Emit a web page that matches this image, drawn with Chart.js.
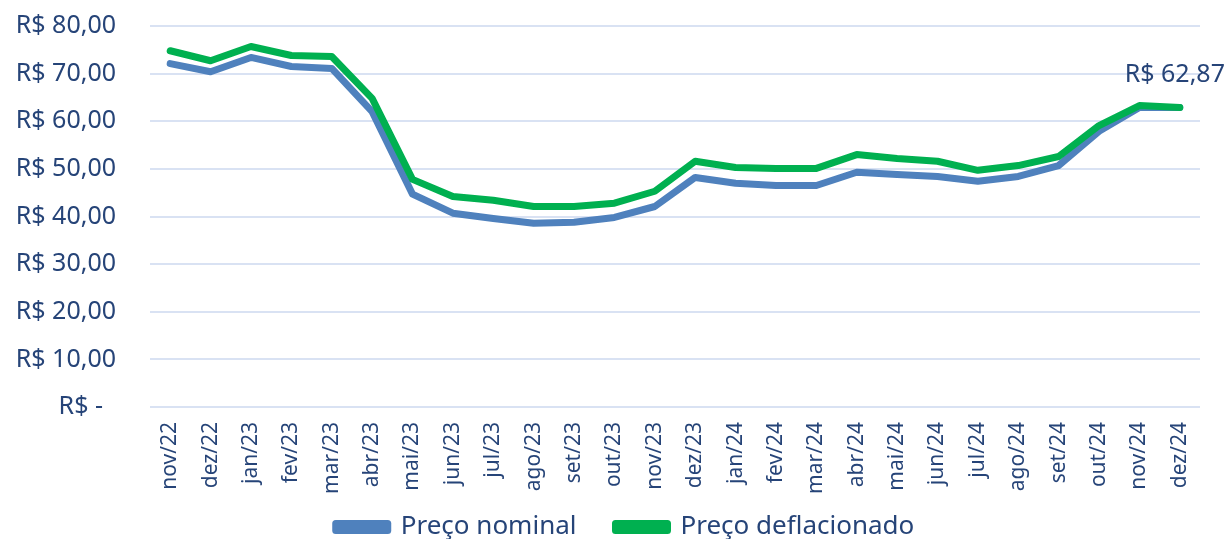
<!DOCTYPE html>
<html lang="pt-BR">
<head>
<meta charset="utf-8">
<title>Preço nominal x deflacionado</title>
<script src="https://cdn.jsdelivr.net/npm/chart.js@4.4.1/dist/chart.umd.min.js"></script>
<style>
  html, body { margin: 0; padding: 0; background: #fff; }
  #wrap { width: 1231px; height: 539px; position: relative; }
</style>
</head>
<body>
<div id="wrap"><canvas id="precoChart"></canvas></div>
<script>
// meses da série
const meses = [
  "nov/22","dez/22","jan/23","fev/23","mar/23","abr/23","mai/23","jun/23","jul/23",
  "ago/23","set/23","out/23","nov/23","dez/23","jan/24","fev/24","mar/24","abr/24",
  "mai/24","jun/24","jul/24","ago/24","set/24","out/24","nov/24","dez/24"
];

// preço nominal (R$)
const precoNominal = [
  72.1, 70.4, 73.4, 71.5, 71.1, 62.0, 44.7, 40.7, 39.6,
  38.6, 38.8, 39.8, 42.1, 48.2, 47.0, 46.5, 46.5, 49.3,
  48.8, 48.4, 47.4, 48.4, 50.7, 57.9, 62.9, 62.87
];

// preço deflacionado (R$)
const precoDeflacionado = [
  74.8, 72.7, 75.7, 73.8, 73.6, 64.8, 47.8, 44.2, 43.4,
  42.1, 42.1, 42.8, 45.3, 51.6, 50.3, 50.1, 50.1, 53.0,
  52.2, 51.6, 49.7, 50.7, 52.6, 59.1, 63.3, 62.87
];

const eixoY = { min: 0, max: 80, passo: 10 };

const corTexto = "#264478";
const fonte = "'Noto Sans', sans-serif";

function formatBRL(v) {
  if (v === 0) return "R$ -  ";
  return "R$ " + v.toFixed(2).replace(".", ",");
}

// rótulo só no último ponto do deflacionado
const rotuloFinal = {
  id: "rotuloFinal",
  afterDatasetsDraw(chart) {
    const meta = chart.getDatasetMeta(1);
    const ultimo = meta.data[meta.data.length - 1];
    const valor = precoDeflacionado[precoDeflacionado.length - 1];
    const ctx = chart.ctx;
    ctx.save();
    ctx.font = "25px " + fonte;
    ctx.fillStyle = corTexto;
    ctx.textAlign = "center";
    ctx.textBaseline = "bottom";
    ctx.fillText(formatBRL(valor).trim(), ultimo.x - 5, ultimo.y - 20);
    ctx.restore();
  }
};

// legenda um pouco à direita, centrada sob a área do gráfico
const legendaDireita = {
  id: "legendaDireita",
  afterLayout(chart) {
    chart.legend.left += 19;
    chart.legend.right += 19;
  }
};

// sem folga extra dos rótulos nas bordas da área do gráfico
function semFolga(scale) {
  scale.paddingLeft = 0;
  scale.paddingRight = 0;
  scale.paddingTop = 0;
  scale.paddingBottom = 0;
}

new Chart(document.getElementById("precoChart"), {
  type: "line",
  data: {
    labels: meses,
    datasets: [
      {
        label: "Preço nominal",
        data: precoNominal,
        borderColor: "#4f81bd",
        backgroundColor: "#4f81bd",
        borderWidth: 7,
        pointRadius: 0,
        tension: 0,
        borderCapStyle: "round",
        borderJoinStyle: "round",
        order: 2
      },
      {
        label: "Preço deflacionado",
        data: precoDeflacionado,
        borderColor: "#00b050",
        backgroundColor: "#00b050",
        borderWidth: 7,
        pointRadius: 0,
        tension: 0,
        borderCapStyle: "round",
        borderJoinStyle: "round",
        order: 1
      }
    ]
  },
  options: {
    responsive: true,
    maintainAspectRatio: false,
    animation: false,
    layout: { padding: { left: 12, right: 31, top: 26, bottom: -11 } },
    plugins: {
      tooltip: { enabled: false },
      legend: {
        position: "bottom",
        labels: {
          sort: (a, b) => a.datasetIndex - b.datasetIndex,
          // espaço extra depois do item do preço nominal
          generateLabels(chart) {
            const itens = Chart.defaults.plugins.legend.labels.generateLabels(chart);
            itens.forEach((it) => {
              if (it.datasetIndex === 0) it.text += "\u2002\u2002\u2002";
            });
            return itens;
          },
          boxWidth: 52,
          boxHeight: 7,
          padding: 0,
          color: corTexto,
          font: { family: fonte, size: 26 }
        }
      }
    },
    scales: {
      x: {
        offset: true,
        grid: { display: false },
        border: { display: false },
        afterFit(scale) {
          semFolga(scale);
          scale.height = 107;
        },
        ticks: {
          minRotation: 90,
          maxRotation: 90,
          autoSkip: false,
          padding: 7,
          color: corTexto,
          font: { family: fonte, size: 21 }
        }
      },
      y: {
        min: eixoY.min,
        max: eixoY.max,
        border: { display: false },
        grid: { color: "#d9e2f3", lineWidth: 2, drawTicks: false },
        afterFit(scale) {
          semFolga(scale);
          scale.width = 138;
        },
        ticks: {
          stepSize: eixoY.passo,
          padding: 34,
          color: corTexto,
          font: { family: fonte, size: 25 },
          callback: (v) => formatBRL(v)
        }
      }
    }
  },
  plugins: [rotuloFinal, legendaDireita]
});
</script>
</body>
</html>
